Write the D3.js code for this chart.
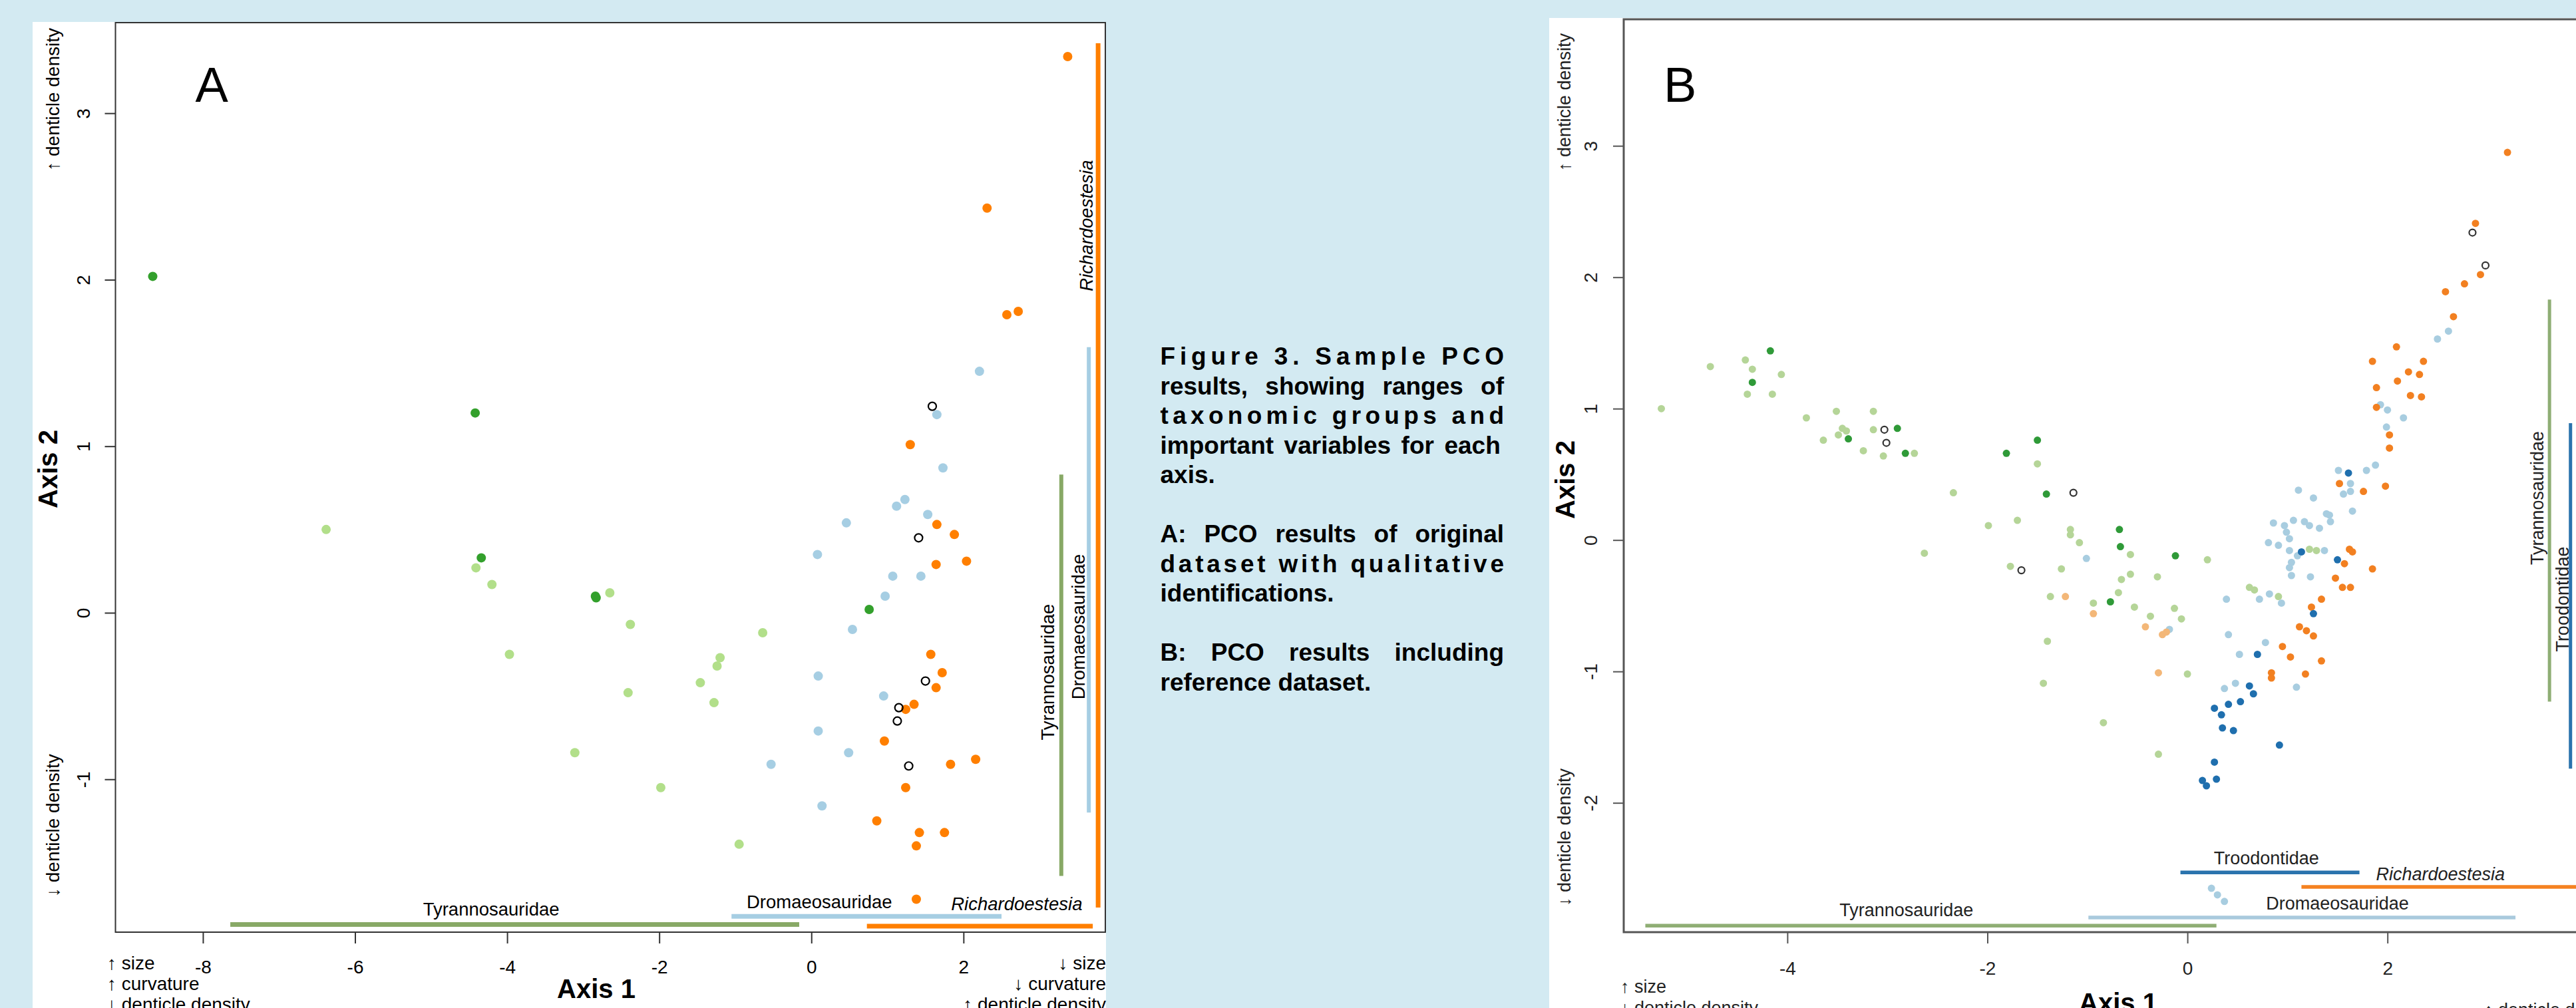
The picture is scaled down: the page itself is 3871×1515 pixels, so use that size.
<!DOCTYPE html>
<html>
<head>
<meta charset="utf-8">
<script src="https://cdn.jsdelivr.net/npm/d3@7"></script>
<style>
  body { margin: 0; background: #d3eaf2; }
  svg { display: block; font-family: "Liberation Sans", Arial, sans-serif; }
</style>
</head>
<body>
<svg id="fig" width="3871" height="1515"></svg>
<script>
// ---------- panel A data (Axis 1, Axis 2) ----------
const aTicksX = [-8, -6, -4, -2, 0, 2]
const aTicksY = [-1, 0, 1, 2, 3]

const aLightGreen = [[-6.38, 0.50], [-4.41, 0.27], [-4.20, 0.17], [-2.65, 0.12], [-2.38, -0.07],
  [-3.97, -0.25], [-0.64, -0.12], [-1.20, -0.27], [-1.24, -0.32], [-1.46, -0.42], [-2.41, -0.48],
  [-1.28, -0.54], [-3.11, -0.84], [-1.98, -1.05], [-0.95, -1.39]]
const aDarkGreen = [[-8.66, 2.02], [-4.42, 1.20], [-4.34, 0.33], [-2.84, 0.10], [-2.83, 0.09], [0.76, 0.02]]
const aLightBlue = [[2.21, 1.45], [1.65, 1.19], [1.73, 0.87], [1.23, 0.68], [1.12, 0.64], [1.53, 0.59],
  [0.46, 0.54], [0.08, 0.35], [1.07, 0.22], [1.44, 0.22], [0.97, 0.10], [0.54, -0.10], [0.09, -0.38],
  [0.95, -0.50], [0.09, -0.71], [0.49, -0.84], [-0.53, -0.91], [0.14, -1.16]]
const aOrange = [[3.37, 3.34], [2.31, 2.43], [2.57, 1.79], [2.72, 1.81], [1.30, 1.01], [1.65, 0.53],
  [1.88, 0.47], [1.64, 0.29], [2.04, 0.31], [1.57, -0.25], [1.72, -0.36], [1.64, -0.45], [1.35, -0.55],
  [1.24, -0.58], [0.96, -0.77], [1.83, -0.91], [2.16, -0.88], [1.24, -1.05], [0.86, -1.25],
  [1.42, -1.32], [1.75, -1.32], [1.38, -1.40], [1.38, -1.72]]
const aOpen = [[1.59, 1.24], [1.41, 0.45], [1.50, -0.41], [1.15, -0.57], [1.13, -0.65], [1.28, -0.92]]

// group ranges on each axis
const aRangeX = [
  { name: 'Tyrannosauridae', from: -7.64, to: -0.16 },
  { name: 'Dromaeosauridae', from: -1.05, to: 2.50 },
  { name: 'Richardoestesia', from: 0.73, to: 3.70 }]
const aRangeY = [
  { name: 'Richardoestesia', from: -1.77, to: 3.42 },
  { name: 'Dromaeosauridae', from: -1.20, to: 1.595 },
  { name: 'Tyrannosauridae', from: -1.58, to: 0.83 }]

// ---------- panel B data ----------
const bTicksX = [-4, -2, 0, 2]
const bTicksY = [-2, -1, 0, 1, 2, 3]

const bLightGreen = [[-5.26, 1.00], [-4.77, 1.32], [-4.42, 1.37], [-4.35, 1.30], [-4.06, 1.26],
  [-4.40, 1.11], [-4.15, 1.11], [-3.81, 0.93], [-3.51, 0.98], [-3.14, 0.98], [-3.45, 0.85],
  [-3.41, 0.83], [-3.49, 0.80], [-3.64, 0.76], [-3.14, 0.84], [-3.24, 0.68], [-3.04, 0.64],
  [-2.73, 0.66], [-2.34, 0.36], [-1.99, 0.11], [-1.70, 0.15], [-2.63, -0.10], [-1.77, -0.20],
  [-1.50, 0.58], [-1.17, 0.08], [-1.17, 0.04], [-1.08, -0.02], [-0.57, -0.11], [0.20, -0.15],
  [-1.26, -0.22], [-0.57, -0.26], [-0.66, -0.30], [-0.30, -0.28], [-0.69, -0.40], [-1.37, -0.43],
  [-0.94, -0.48], [-0.53, -0.51], [-0.37, -0.58], [-0.13, -0.52], [-0.06, -0.60], [-1.40, -0.77],
  [0.00, -1.02], [-1.44, -1.09], [-0.84, -1.39], [-0.29, -1.63], [1.22, -0.07], [1.29, -0.08],
  [0.62, -0.36], [0.67, -0.38], [0.91, -0.43]]
const bDarkGreen = [[-4.17, 1.44], [-4.35, 1.20], [-3.39, 0.77], [-2.90, 0.85], [-2.82, 0.66],
  [-1.81, 0.66], [-1.50, 0.76], [-1.41, 0.35], [-0.68, 0.08], [-0.67, -0.05], [-0.12, -0.12],
  [-0.77, -0.47]]
const bLightOrange = [[-1.22, -0.43], [-0.94, -0.56], [-0.42, -0.66], [-0.25, -0.72], [-0.21, -0.70],
  [-0.29, -1.01]]
const bLightBlue = [[-1.01, -0.14], [-0.18, -0.68], [1.11, 0.38], [1.26, 0.32], [1.39, 0.20],
  [0.86, 0.13], [0.97, 0.11], [1.06, 0.15], [1.17, 0.14], [1.22, 0.11], [1.32, 0.09], [0.99, 0.06],
  [1.02, 0.01], [0.81, -0.02], [0.91, -0.04], [1.02, -0.08], [1.10, -0.12], [1.37, -0.08],
  [1.04, -0.17], [1.02, -0.21], [1.04, -0.27], [1.23, -0.28], [0.72, -0.45], [0.82, -0.41],
  [0.94, -0.48], [0.39, -0.45], [0.41, -0.72], [0.52, -0.87], [0.78, -0.78], [1.09, -1.12],
  [0.37, -1.13], [0.48, -1.09], [2.61, 1.59], [2.50, 1.53], [1.93, 1.03], [2.00, 0.99],
  [2.16, 0.93], [1.99, 0.86], [1.88, 0.57], [1.79, 0.53], [1.51, 0.53], [1.63, 0.43], [1.56, 0.35],
  [1.63, 0.37], [1.65, 0.22], [1.42, 0.19], [1.43, 0.14], [0.24, -2.65], [0.30, -2.70], [0.37, -2.75]]
const bOrange = [[3.20, 2.95], [2.88, 2.41], [2.93, 2.02], [2.77, 1.95], [2.58, 1.89], [2.66, 1.70],
  [2.09, 1.47], [1.85, 1.36], [2.36, 1.36], [2.21, 1.28], [2.32, 1.26], [2.10, 1.21], [1.89, 1.16],
  [2.23, 1.10], [2.34, 1.09], [1.89, 1.01], [2.02, 0.80], [2.02, 0.70], [1.98, 0.41], [1.76, 0.37],
  [1.52, 0.43], [1.62, -0.07], [1.65, -0.09], [1.57, -0.18], [1.85, -0.22], [1.48, -0.29],
  [1.55, -0.36], [1.63, -0.36], [1.24, -0.51], [1.34, -0.45], [1.12, -0.66], [1.19, -0.69],
  [1.26, -0.73], [0.95, -0.81], [1.03, -0.89], [0.84, -1.01], [0.84, -1.05], [1.18, -1.02],
  [1.34, -0.92]]
const bDarkBlue = [[1.14, -0.09], [0.70, -0.87], [1.26, -0.56], [0.62, -1.11], [0.66, -1.17],
  [0.53, -1.23], [0.41, -1.25], [0.27, -1.28], [0.34, -1.33], [0.35, -1.43], [0.46, -1.45],
  [0.92, -1.56], [0.27, -1.69], [0.29, -1.82], [0.15, -1.83], [0.19, -1.87], [1.61, 0.51],
  [1.50, -0.15]]
const bOpen = [[-3.03, 0.84], [-3.01, 0.74], [-1.66, -0.23], [-1.14, 0.36], [2.85, 2.34], [2.98, 2.09]]

const bRangeX = [
  { name: 'Tyrannosauridae', from: -5.42, to: 0.29 },
  { name: 'Dromaeosauridae', from: -0.99, to: 3.28 },
  { name: 'Troodontidae', from: -0.07, to: 1.72 },
  { name: 'Richardoestesia', from: 1.14, to: 4.5 }]
const bRangeY = [
  { name: 'Tyrannosauridae', from: -1.23, to: 1.83 },
  { name: 'Troodontidae', from: -1.74, to: 0.89 }]

const captionLines = ['Figure 3. Sample PCO', 'results, showing ranges of', 'taxonomic groups and',
  'important variables for  each', 'axis.', '', 'A: PCO results of original',
  'dataset with qualitative', 'identifications.', '', 'B: PCO results including', 'reference dataset.']
const captionLast = ['axis.', 'identifications.', 'reference dataset.']
const captionLetterSpaced = ['Figure 3. Sample PCO', 'taxonomic groups and', 'dataset with qualitative']

// ---------- drawing ----------
const svg = d3.select('#fig')

function axes (g, x, y, xt, yt, o) {
  let bx = g.append('g').attr('transform', `translate(0,${y.range()[0]})`)
    .call(d3.axisBottom(x).tickValues(xt).tickSize(17).tickFormat(d => String(d)))
  let by = g.append('g').attr('transform', `translate(${x.range()[0]},0)`)
    .call(d3.axisLeft(y).tickValues(yt).tickSize(16).tickFormat(d => String(d)))
  for (let a of [bx, by]) {
    a.attr('font-family', null).attr('font-size', o.fs)
    a.select('.domain').remove()
    a.selectAll('line').attr('stroke', o.line).attr('stroke-width', 2)
    a.selectAll('text').attr('fill', o.text)
  }
  bx.selectAll('text').attr('y', o.xLab).attr('dy', 0)
  by.selectAll('text').attr('x', 0).attr('dy', 0).attr('text-anchor', 'middle')
    .attr('transform', `translate(${-o.yLab},0) rotate(-90)`)
}

function dots (g, x, y, pts, r, fill, stroke) {
  g.append('g').selectAll('circle')
    .data(pts)
    .join('circle')
    .attr('cx', d => x(d[0]))
    .attr('cy', d => y(d[1]))
    .attr('r', r)
    .attr('fill', fill || 'none')
    .attr('stroke', stroke || 'none')
    .attr('stroke-width', stroke ? 2.2 : 0)
}

function txt (g, s, px, py, o) {
  let t = g.append('text').attr('x', px).attr('y', py).text(s)
    .attr('font-size', o.fs).attr('fill', o.fill || '#000')
    .attr('text-anchor', o.anchor || 'start')
  if (o.bold) t.attr('font-weight', 'bold')
  if (o.italic) t.attr('font-style', 'italic')
  if (o.rot) t.attr('transform', `rotate(-90,${px},${py})`)
  return t
}

// ===== panel A =====
let xA = d3.scaleLinear().domain([-9.15, 3.865]).range([173.5, 1661]),
    yA = d3.scaleLinear().domain([-1.918, 3.544]).range([1401, 34])
let gA = svg.append('g')
gA.append('rect').attr('x', 49).attr('y', 33).attr('width', 1613).attr('height', 1482).attr('fill', '#fff')

let colA = { Tyrannosauridae: '#88a966', Dromaeosauridae: '#a6cee3', Richardoestesia: '#ff7f00' }
// lanes where the range bars sit (data units)
let laneAx = { Tyrannosauridae: -1.872, Dromaeosauridae: -1.823, Richardoestesia: -1.882 }
let laneAy = { Richardoestesia: 3.77, Dromaeosauridae: 3.648, Tyrannosauridae: 3.286 }

gA.append('g').selectAll('line').data(aRangeX).join('line')
  .attr('x1', d => xA(d.from)).attr('x2', d => xA(d.to))
  .attr('y1', d => yA(laneAx[d.name])).attr('y2', d => yA(laneAx[d.name]))
  .attr('stroke', d => colA[d.name]).attr('stroke-width', 7)
gA.append('g').selectAll('line').data(aRangeY).join('line')
  .attr('x1', d => xA(laneAy[d.name])).attr('x2', d => xA(laneAy[d.name]))
  .attr('y1', d => yA(d.from)).attr('y2', d => yA(d.to))
  .attr('stroke', d => colA[d.name]).attr('stroke-width', d => d.name == 'Richardoestesia' ? 7 : 6)

dots(gA, xA, yA, aLightGreen, 7, '#b2df8a')
dots(gA, xA, yA, aLightBlue, 7, '#a6cee3')
dots(gA, xA, yA, aDarkGreen, 7, '#33a02c')
dots(gA, xA, yA, aOrange, 7, '#ff7f00')
dots(gA, xA, yA, aOpen, 6, null, '#000')

gA.append('rect').attr('x', 173.5).attr('y', 34).attr('width', 1661 - 173.5).attr('height', 1401 - 34)
  .attr('fill', 'none').attr('stroke', '#333').attr('stroke-width', 2)
axes(gA, xA, yA, aTicksX, aTicksY, { fs: 28, line: '#333', text: '#000', xLab: 62, yLab: 38.5 })

// group labels
txt(gA, 'Tyrannosauridae', xA(-4.21), yA(-1.82), { fs: 27.5, anchor: 'middle' })
txt(gA, 'Dromaeosauridae', xA(0.105), yA(-1.774), { fs: 27.5, anchor: 'middle' })
txt(gA, 'Richardoestesia', xA(2.70), yA(-1.786), { fs: 27.5, anchor: 'middle', italic: true })
txt(gA, 'Richardoestesia', xA(3.70), yA(2.325), { fs: 27.5, anchor: 'middle', italic: true, rot: true })
txt(gA, 'Dromaeosauridae', xA(3.596), yA(-0.084), { fs: 27.5, anchor: 'middle', rot: true })
txt(gA, 'Tyrannosauridae', xA(3.19), yA(-0.356), { fs: 27.5, anchor: 'middle', rot: true })
txt(gA, 'A', xA(-8.10), yA(3.068), { fs: 74 })

// axis titles and variable notes
txt(gA, 'Axis 1', 896, 1500, { fs: 40, bold: true, anchor: 'middle' })
txt(gA, 'Axis 2', 86, 705, { fs: 40, bold: true, anchor: 'middle', rot: true })
txt(gA, '\u2191 denticle density', 89, 42, { fs: 28, anchor: 'end', rot: true })
txt(gA, '\u2193 denticle density', 89, 1348, { fs: 28, anchor: 'start', rot: true })
;['\u2191 size', '\u2191 curvature', '\u2193 denticle density'].forEach((s, i) =>
  txt(gA, s, 161, 1457 + 31 * i, { fs: 28 }))
;['\u2193 size', '\u2193 curvature', '\u2191 denticle density'].forEach((s, i) =>
  txt(gA, s, 1662, 1457 + 31 * i, { fs: 28, anchor: 'end' }))

// ===== caption (justified) =====
let gC = svg.append('g')
const capW = 516.5
captionLines.forEach((s, i) => {
  if (!s) return
  let t = txt(gC, s, 1743.5, 548 + 44.5 * i, { fs: 37, bold: true })
  if (captionLast.includes(s)) return
  if (captionLetterSpaced.includes(s)) {
    t.attr('textLength', capW).attr('lengthAdjust', 'spacing')
  } else {
    let gap = capW - t.node().getComputedTextLength(),
        spaces = s.split(' ').length - 1
    if (gap > 0 && spaces > 0) t.attr('word-spacing', gap / spaces)
  }
})

// ===== panel B =====
let xB = d3.scaleLinear().domain([-5.636, 4.078]).range([2440, 3900]),
    yB = d3.scaleLinear().domain([-2.984, 3.963]).range([1401, 29])
let gB = svg.append('g')
gB.append('rect').attr('x', 2328).attr('y', 27).attr('width', 1543).attr('height', 1488).attr('fill', '#fff')

let colB = { Tyrannosauridae: '#8fae75', Dromaeosauridae: '#a9cadd', Troodontidae: '#2a73ad', Richardoestesia: '#f58220' }
let laneBx = { Tyrannosauridae: -2.934, Dromaeosauridae: -2.873, Troodontidae: -2.529, Richardoestesia: -2.64 }
let laneBy = { Tyrannosauridae: 3.62, Troodontidae: 3.83 }

gB.append('g').selectAll('line').data(bRangeX).join('line')
  .attr('x1', d => xB(d.from)).attr('x2', d => xB(d.to))
  .attr('y1', d => yB(laneBx[d.name])).attr('y2', d => yB(laneBx[d.name]))
  .attr('stroke', d => colB[d.name]).attr('stroke-width', 5.5)
gB.append('g').selectAll('line').data(bRangeY).join('line')
  .attr('x1', d => xB(laneBy[d.name])).attr('x2', d => xB(laneBy[d.name]))
  .attr('y1', d => yB(d.from)).attr('y2', d => yB(d.to))
  .attr('stroke', d => colB[d.name]).attr('stroke-width', 5)

dots(gB, xB, yB, bLightGreen, 5.5, '#b5d598')
dots(gB, xB, yB, bLightBlue, 5.5, '#a8cde0')
dots(gB, xB, yB, bLightOrange, 5.5, '#f3b778')
dots(gB, xB, yB, bDarkGreen, 5.5, '#2f9a38')
dots(gB, xB, yB, bOrange, 5.5, '#f28021')
dots(gB, xB, yB, bDarkBlue, 5.5, '#1f6fae')
dots(gB, xB, yB, bOpen, 5, null, '#333')

gB.append('rect').attr('x', 2440).attr('y', 29).attr('width', 3900 - 2440).attr('height', 1401 - 29)
  .attr('fill', 'none').attr('stroke', '#555').attr('stroke-width', 3)
axes(gB, xB, yB, bTicksX, bTicksY, { fs: 28, line: '#555', text: '#222', xLab: 64, yLab: 40 })

txt(gB, 'Tyrannosauridae', xB(-2.81), yB(-2.862), { fs: 27, anchor: 'middle', fill: '#222' })
txt(gB, 'Dromaeosauridae', xB(1.50), yB(-2.813), { fs: 27, anchor: 'middle', fill: '#222' })
txt(gB, 'Troodontidae', xB(0.79), yB(-2.47), { fs: 27, anchor: 'middle', fill: '#222' })
txt(gB, 'Richardoestesia', xB(2.53), yB(-2.59), { fs: 27, anchor: 'middle', italic: true, fill: '#222' })
txt(gB, 'Tyrannosauridae', xB(3.56), yB(0.32), { fs: 27, anchor: 'middle', rot: true, fill: '#222' })
txt(gB, 'Troodontidae', xB(3.81), yB(-0.45), { fs: 27, anchor: 'middle', rot: true, fill: '#222' })
txt(gB, 'B', xB(-5.236), yB(3.335), { fs: 74 })

txt(gB, 'Axis 1', 3183, 1521, { fs: 40, bold: true, anchor: 'middle' })
txt(gB, 'Axis 2', 2366, 721, { fs: 40, bold: true, anchor: 'middle', rot: true })
txt(gB, '\u2191 denticle density', 2360, 50, { fs: 27, anchor: 'end', rot: true, fill: '#222' })
txt(gB, '\u2193 denticle density', 2360, 1362, { fs: 27, anchor: 'start', rot: true, fill: '#222' })
txt(gB, '\u2191 size', 2435, 1492, { fs: 27, fill: '#222' })
txt(gB, '\u2193 denticle density', 2435, 1524, { fs: 27, fill: '#222' })
txt(gB, '\u2191 denticle density', 3733, 1527, { fs: 27, fill: '#222' })
</script>
</body>
</html>
